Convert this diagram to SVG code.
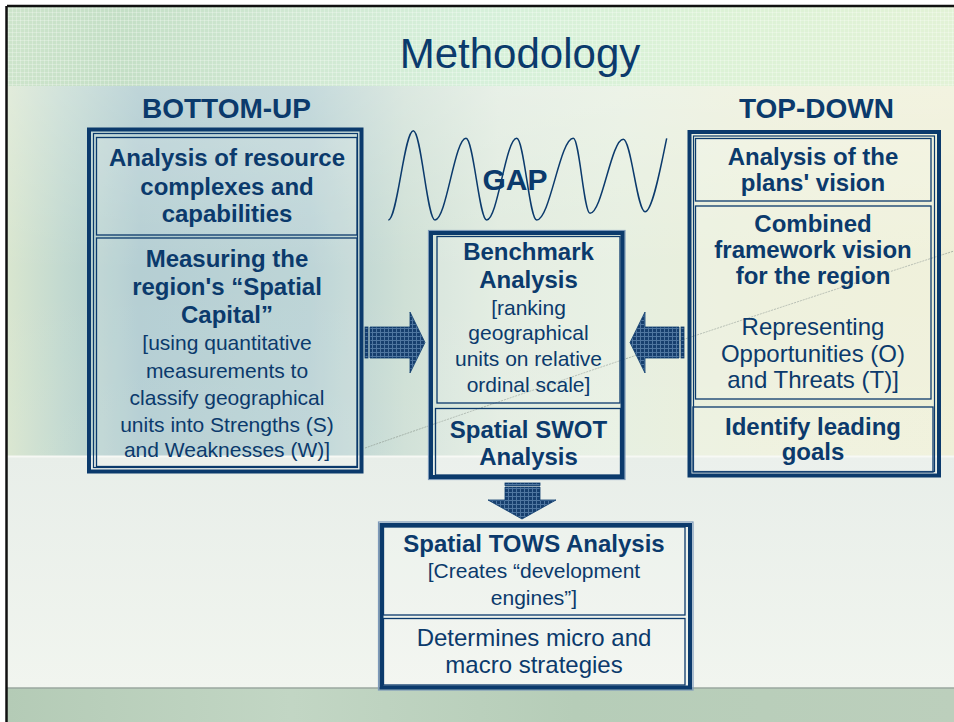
<svg xmlns="http://www.w3.org/2000/svg" width="954" height="722" viewBox="0 0 954 722">
<defs>
<style>
.t{font-family:"Liberation Sans",Arial,sans-serif;fill:#0b3a6c;text-anchor:middle}
.b{font-weight:bold;font-size:24px}
.r{font-size:24px}
.s{font-size:21px}
.thick{fill:none;stroke:#0b3a6c;stroke-width:4}
.thin{fill:none;stroke:#0b3a6c;stroke-width:1.2}
.halo{fill:none;stroke:#7d99b9;stroke-width:1.2}
.cell{fill:#ffffff;fill-opacity:0.14;stroke:#0b3a6c;stroke-width:1.3}
.arrow{fill:url(#dots);stroke:#0b3a6c;stroke-width:0.8}
</style>
<pattern id="dots" width="4" height="4" patternUnits="userSpaceOnUse">
<rect width="4" height="4" fill="#173f6e"/>
<rect width="4" height="1" fill="#4f76a0"/>
<rect width="1" height="4" fill="#4f76a0"/>
</pattern>
<pattern id="grid" width="4" height="4" patternUnits="userSpaceOnUse">
<rect width="4" height="1" fill="#ffffff" fill-opacity="0.25"/>
<rect width="1" height="4" fill="#ffffff" fill-opacity="0.25"/>
</pattern>
<linearGradient id="topband" x1="0" y1="0" x2="1" y2="0">
<stop offset="0" stop-color="#cde4cb"/>
<stop offset="0.12" stop-color="#c4dfc6"/>
<stop offset="0.3" stop-color="#d0e8d2"/>
<stop offset="0.5" stop-color="#d6f0da"/>
<stop offset="0.75" stop-color="#dcf2d6"/>
<stop offset="1" stop-color="#e2f2d6"/>
</linearGradient>
<linearGradient id="midband" x1="0" y1="0" x2="1" y2="0">
<stop offset="0" stop-color="#d9e6cf"/>
<stop offset="0.06" stop-color="#c2d9d0"/>
<stop offset="0.14" stop-color="#a9c7cc"/>
<stop offset="0.32" stop-color="#b3ced1"/>
<stop offset="0.42" stop-color="#cfe0d6"/>
<stop offset="0.52" stop-color="#e0ebdf"/>
<stop offset="0.65" stop-color="#e6efe0"/>
<stop offset="0.8" stop-color="#ecefd9"/>
<stop offset="1" stop-color="#eeefd6"/>
</linearGradient>
<linearGradient id="midv" x1="0" y1="0" x2="0" y2="1">
<stop offset="0" stop-color="#ffffff" stop-opacity="0.25"/>
<stop offset="0.5" stop-color="#ffffff" stop-opacity="0"/>
<stop offset="1" stop-color="#ffffff" stop-opacity="0.05"/>
</linearGradient>
<linearGradient id="lowband" x1="0" y1="0" x2="0" y2="1">
<stop offset="0" stop-color="#e8eee9"/>
<stop offset="1" stop-color="#f1f5ef"/>
</linearGradient>
<linearGradient id="botband" x1="0" y1="0" x2="1" y2="0">
<stop offset="0" stop-color="#b4cbb6"/>
<stop offset="0.3" stop-color="#c2d6c4"/>
<stop offset="0.6" stop-color="#b6cdb8"/>
<stop offset="1" stop-color="#bccfbc"/>
</linearGradient>
</defs>

<g id="background">
<rect x="0" y="0" width="954" height="722" fill="#ffffff"/>
<rect x="7" y="7" width="947" height="80" fill="url(#topband)"/>
<rect x="7" y="7" width="947" height="80" fill="url(#grid)"/>
<rect x="7" y="86" width="947" height="370" fill="url(#midband)"/>
<rect x="7" y="86" width="947" height="370" fill="url(#midv)"/>
<rect x="7" y="456" width="947" height="232" fill="url(#lowband)"/>
<line x1="7" y1="456.5" x2="954" y2="456.5" stroke="#f6f8f4" stroke-width="2"/>
<rect x="7" y="688" width="947" height="34" fill="url(#botband)"/>
<line x1="7" y1="688" x2="954" y2="688" stroke="#9aa79f" stroke-width="1.5"/>
<path d="M365,448 Q640,352 954,251" fill="none" stroke="#8f9a92" stroke-width="1" stroke-dasharray="2 1" stroke-opacity="0.7"/>
<line x1="7" y1="6" x2="954" y2="6" stroke="#111111" stroke-width="2.5"/>
<line x1="6.5" y1="6" x2="6.5" y2="722" stroke="#111111" stroke-width="2.5"/>
</g>

<g id="title">
<text class="t" x="520" y="68" font-size="42">Methodology</text>
</g>

<g id="headers">
<text class="t" x="226.5" y="118" font-size="28" font-weight="bold">BOTTOM-UP</text>
<text class="t" x="816.5" y="118" font-size="28" font-weight="bold">TOP-DOWN</text>
</g>

<g id="gap">
<path d="M388.3,220 C397.4,220 404.2,130.7 413.3,130.7 C421.2,130.7 427.1,220 435,220 C446.3,220 454.7,138.3 466,138.3 C473.5,138.3 479.2,220 486.7,220 C497.6,220 505.8,138.3 516.7,138.3 C524,138.3 529.4,220 536.7,220 C550,220 560,138.3 573.3,138.3 C579.4,138.3 583.9,213.3 590,213.3 C602.1,213.3 611.2,139.3 623.3,139.3 C631.2,139.3 637.1,211.7 645,211.7 C652.9,211.7 662,160 666.7,138.3" fill="none" stroke="#0b3a6c" stroke-width="1.5"/>
<text class="t" x="515" y="190" font-size="30" font-weight="bold">GAP</text>
</g>

<g id="bottom-up">
<rect class="thick" x="89" y="129.5" width="272.5" height="342"/>
<rect class="thin" x="93.5" y="133.5" width="264" height="334"/>
<rect class="cell" x="96.5" y="137.5" width="260.5" height="97.5"/>
<rect class="cell" x="96.5" y="238" width="260.5" height="228.5"/>
<text class="t b" x="227" y="166">Analysis of resource</text>
<text class="t b" x="227" y="195">complexes and</text>
<text class="t b" x="227" y="222">capabilities</text>
<text class="t b" x="227" y="267">Measuring the</text>
<text class="t b" x="227" y="295">region's “Spatial</text>
<text class="t b" x="227" y="323">Capital”</text>
<text class="t s" x="227" y="350">[using quantitative</text>
<text class="t s" x="227" y="378">measurements to</text>
<text class="t s" x="227" y="405">classify geographical</text>
<text class="t s" x="227" y="432">units into Strengths (S)</text>
<text class="t s" x="227" y="457">and Weaknesses (W)]</text>
</g>

<g id="benchmark">
<rect class="halo" x="428.5" y="230.5" width="196.5" height="249"/>
<rect class="thick" x="431" y="233" width="191.5" height="244"/>
<rect class="cell" x="437" y="236.5" width="183" height="166.5"/>
<rect class="cell" x="435.5" y="408.5" width="185" height="66.5"/>
<text class="t b" x="528.5" y="260">Benchmark</text>
<text class="t b" x="528.5" y="288">Analysis</text>
<text class="t s" x="528.5" y="315">[ranking</text>
<text class="t s" x="528.5" y="340">geographical</text>
<text class="t s" x="528.5" y="366">units on relative</text>
<text class="t s" x="528.5" y="392">ordinal scale]</text>
<text class="t b" x="528.5" y="438">Spatial SWOT</text>
<text class="t b" x="528.5" y="465">Analysis</text>
</g>

<g id="top-down">
<rect class="thick" x="689.5" y="132" width="249.5" height="343.5"/>
<rect class="thin" x="693.5" y="136" width="241" height="335.5"/>
<rect class="cell" x="695.5" y="138.5" width="235.5" height="62.5"/>
<rect class="cell" x="695.5" y="206" width="235.5" height="193"/>
<rect class="cell" x="693" y="407" width="240" height="65"/>
<text class="t b" x="813" y="165">Analysis of the</text>
<text class="t b" x="813" y="191">plans' vision</text>
<text class="t b" x="813" y="232">Combined</text>
<text class="t b" x="813" y="258">framework vision</text>
<text class="t b" x="813" y="284">for the region</text>
<text class="t r" x="813" y="335">Representing</text>
<text class="t r" x="813" y="362">Opportunities (O)</text>
<text class="t r" x="813" y="388">and Threats (T)]</text>
<text class="t b" x="813" y="435">Identify leading</text>
<text class="t b" x="813" y="460">goals</text>
</g>

<g id="tows">
<rect class="halo" x="378.5" y="522" width="314.5" height="168"/>
<rect class="thick" x="381.5" y="525" width="308.5" height="162.5"/>
<rect class="cell" x="383.5" y="527" width="301.5" height="88"/>
<rect class="cell" x="383.5" y="618.5" width="301.5" height="66.5"/>
<text class="t b" x="534" y="552">Spatial TOWS Analysis</text>
<text class="t s" x="534" y="578">[Creates “development</text>
<text class="t s" x="534" y="605">engines”]</text>
<text class="t r" x="534" y="646">Determines micro and</text>
<text class="t r" x="534" y="673">macro strategies</text>
</g>

<g id="connectors">
<rect class="arrow" x="365" y="327" width="3" height="31"/>
<path class="arrow" d="M370,327 L410,327 L410,312 L425,342.5 L410,373 L410,358 L370,358 Z"/>
<rect class="arrow" x="681" y="327" width="3" height="31"/>
<path class="arrow" d="M679,327 L645,327 L645,312 L630,342.5 L645,373 L645,358 L679,358 Z"/>
<rect class="arrow" x="505" y="483" width="35" height="2.5"/>
<path class="arrow" d="M505,487 L540,487 L540,500 L556,500 L522,519 L488,500 L505,500 Z"/>
</g>
</svg>
